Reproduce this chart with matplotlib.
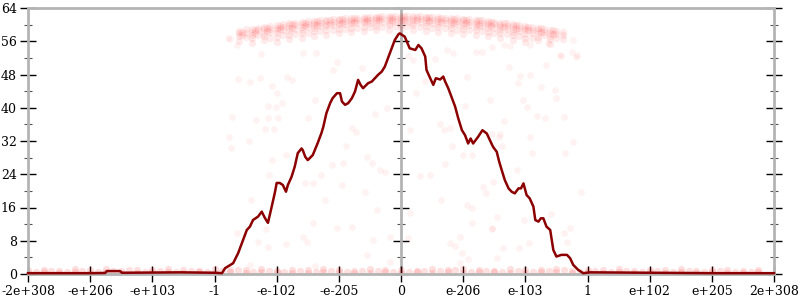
import numpy as np
import matplotlib.pyplot as plt

# tick labels along x (positions -6..6)
xlabels = ["-2e+308", "-e+206", "-e+103", "-1", "-e-102", "-e-205", "0",
           "e-206", "e-103", "1", "e+102", "e+205", "2e+308"]
xticks = list(range(-6, 7))

# the dark red curve
line_x = [-6.0, -5.0, -4.76, -4.73, -4.52, -4.49, -4.0, -3.55, -3.0, -2.88,
          -2.83, -2.70, -2.62, -2.54, -2.48, -2.43, -2.38, -2.30, -2.24, -2.19,
          -2.14, -2.08, -2.03, -2.00, -1.95, -1.90, -1.85, -1.82, -1.76, -1.71,
          -1.66, -1.60, -1.58, -1.54, -1.50, -1.42, -1.34, -1.28, -1.25, -1.20,
          -1.14, -1.10, -1.03, -0.98, -0.95, -0.90, -0.85, -0.79, -0.74, -0.69,
          -0.65, -0.61, -0.53, -0.47, -0.42, -0.37, -0.31, -0.26, -0.20, -0.15,
          -0.10, -0.04, -0.02, 0.06, 0.14, 0.23, 0.28, 0.33, 0.39, 0.41,
          0.47, 0.52, 0.56, 0.63, 0.68, 0.71, 0.76, 0.82, 0.87, 0.92,
          0.98, 1.03, 1.08, 1.12, 1.16, 1.24, 1.31, 1.38, 1.43, 1.48,
          1.54, 1.58, 1.62, 1.67, 1.73, 1.78, 1.83, 1.89, 1.93, 1.97,
          2.02, 2.07, 2.13, 2.16, 2.21, 2.25, 2.29, 2.34, 2.40, 2.45,
          2.50, 2.58, 2.67, 2.72, 2.77, 2.85, 2.93, 3.04, 4.0, 5.0, 6.0]
line_y = [0.2, 0.2, 0.25, 0.7, 0.7, 0.3, 0.35, 0.4, 0.3, 0.2,
          1.4, 2.6, 5.0, 8.2, 10.6, 11.4, 13.0, 13.8, 15.0, 13.5,
          12.3, 16.2, 19.5, 21.9, 21.9, 21.4, 19.8, 21.4, 23.4, 25.8,
          29.1, 30.2, 29.8, 28.2, 27.4, 28.6, 31.5, 33.9, 35.4, 38.7,
          41.1, 42.3, 43.5, 43.5, 41.5, 40.7, 41.1, 42.3, 43.9, 46.7,
          45.5, 44.7, 45.9, 46.3, 47.1, 47.9, 48.7, 49.9, 52.3, 54.3,
          56.3, 57.7, 57.9, 57.1, 54.3, 53.9, 55.1, 54.3, 52.3, 49.1,
          47.1, 45.5, 47.1, 46.8, 47.5, 46.3, 44.7, 42.3, 40.3, 37.5,
          34.6, 33.4, 31.4, 32.6, 31.4, 33.0, 34.6, 33.8, 32.2, 30.6,
          29.4, 27.0, 25.0, 22.6, 20.6, 19.8, 19.4, 20.6, 20.6, 21.8,
          19.0, 18.2, 16.2, 13.0, 12.6, 13.4, 13.4, 11.4, 10.6, 5.8,
          4.2, 4.6, 4.6, 3.8, 2.2, 1.0, 0.2, 0.4, 0.3, 0.2, 0.2]

# dense band of faint points near the top
top_cols = [-2.6, -2.5, -2.4, -2.3, -2.2, -2.1, -2.0, -1.9, -1.8, -1.7, -1.6,
            -1.5, -1.4, -1.3, -1.2, -1.1, -1.0, -0.9, -0.8, -0.7, -0.6, -0.5,
            -0.4, -0.3, -0.2, -0.1, 0.0, 0.1, 0.2, 0.3, 0.4, 0.5, 0.6, 0.7,
            0.8, 0.9, 1.0, 1.1, 1.2, 1.3, 1.4, 1.5, 1.6, 1.7, 1.8, 1.9, 2.0,
            2.1, 2.2, 2.3, 2.4, 2.5, 2.6]
top_vals = [[58.5, 57.9, 57.2, 56.0], [58.9, 58.1, 57.0],
            [59.0, 58.3, 57.6, 56.8, 55.5], [59.3, 58.6, 57.5],
            [59.4, 58.9, 58.1, 57.3, 56.4], [59.7, 59.0, 58.2, 56.9],
            [59.9, 59.3, 58.7, 57.9, 57.0, 55.8], [60.1, 59.5, 58.6, 57.4],
            [60.3, 59.8, 59.1, 58.4, 57.6, 56.5], [60.5, 59.9, 59.0, 57.8],
            [60.6, 60.1, 59.5, 58.8, 58.0, 56.9], [60.8, 60.2, 59.4, 58.1],
            [60.9, 60.4, 59.9, 59.2, 58.4, 57.3], [61.1, 60.5, 59.7, 58.5],
            [61.2, 60.8, 60.2, 59.6, 58.8, 57.6], [61.3, 60.7, 59.9, 58.7],
            [61.4, 61.0, 60.5, 59.8, 59.0, 57.9], [61.5, 60.9, 60.2, 58.9],
            [61.6, 61.2, 60.7, 60.1, 59.3, 58.2], [61.7, 61.1, 60.4, 59.2],
            [61.8, 61.4, 60.9, 60.3, 59.5, 58.4], [61.8, 61.2, 60.5, 59.4],
            [61.9, 61.5, 61.0, 60.4, 59.7, 58.6], [62.0, 61.3, 60.6, 59.5],
            [62.0, 61.6, 61.1, 60.5, 59.8, 58.8], [62.0, 61.4, 60.7, 59.6],
            [62.1, 61.7, 61.2, 60.6, 59.9, 58.9], [62.0, 61.4, 60.7, 59.6],
            [62.0, 61.6, 61.1, 60.5, 59.8, 58.8], [62.0, 61.3, 60.6, 59.4],
            [61.9, 61.5, 61.0, 60.4, 59.6, 58.5], [61.8, 61.2, 60.4, 59.3],
            [61.8, 61.4, 60.8, 60.2, 59.4, 58.3], [61.7, 61.1, 60.3, 59.1],
            [61.6, 61.2, 60.6, 60.0, 59.2, 58.1], [61.5, 60.9, 60.1, 58.8],
            [61.4, 61.0, 60.4, 59.7, 58.9, 57.8], [61.3, 60.7, 59.8, 58.6],
            [61.2, 60.7, 60.1, 59.5, 58.7, 57.5], [61.0, 60.4, 59.6, 58.4],
            [60.9, 60.4, 59.8, 59.1, 58.3, 57.2], [60.7, 60.1, 59.3, 58.0],
            [60.5, 60.0, 59.4, 58.7, 57.9, 56.8], [60.3, 59.7, 58.9, 57.7],
            [60.1, 59.6, 59.0, 58.3, 57.5, 56.4], [59.9, 59.3, 58.5, 57.2],
            [59.7, 59.2, 58.6, 57.8, 56.9, 55.7], [59.5, 58.8, 58.0, 56.7],
            [59.3, 58.7, 57.9, 57.1, 56.2], [59.0, 58.3, 57.4],
            [58.8, 58.1, 57.3, 56.5, 55.3], [58.5, 57.8, 56.8],
            [58.2, 57.5, 56.6]]
# second pass of the band, read between the columns above
top_cols2 = [-2.55, -2.35, -2.15, -1.95, -1.75, -1.55, -1.35, -1.15, -0.95,
             -0.75, -0.55, -0.35, -0.15, 0.05, 0.25, 0.45, 0.65, 0.85, 1.05,
             1.25, 1.45, 1.65, 1.85, 2.05, 2.25, 2.45]
top_vals2 = [[58.3, 57.4], [58.8, 57.9], [59.2, 58.4], [59.7, 58.9],
             [60.1, 59.2], [60.5, 59.6], [60.8, 59.9], [61.1, 60.2],
             [61.3, 60.5], [61.5, 60.7], [61.7, 60.9], [61.8, 61.0],
             [61.9, 61.1], [62.0, 61.1], [61.9, 61.0], [61.8, 60.9],
             [61.6, 60.7], [61.4, 60.5], [61.2, 60.3], [61.0, 60.0],
             [60.7, 59.7], [60.3, 59.4], [59.9, 59.0], [59.5, 58.6],
             [59.1, 58.2], [58.6, 57.7]]

# faint points along the bottom
bottom_x = [-6.0, -5.75, -5.5, -5.25, -5.0, -4.75, -4.5, -4.25, -4.0, -3.75,
            -3.5, -3.25, -3.0, -2.75, -2.5, -2.25, -2.0, -1.75, -1.5, -1.25,
            -1.0, -0.75, -0.5, -0.25, 0.0, 0.25, 0.5, 0.75, 1.0, 1.25, 1.5,
            1.75, 2.0, 2.25, 2.5, 2.75, 3.0, 3.25, 3.5, 3.75, 4.0, 4.25, 4.5,
            4.75, 5.0, 5.25, 5.5, 5.75]
bottom_lo = [0.3, 0.4, 0.2, 0.5, 0.3, 0.4, 0.3, 0.2, 0.5, 0.4, 0.3, 0.5,
             0.2, 0.4, 0.3, 0.5, 0.4, 0.2, 0.3, 0.5, 0.4, 0.3, 0.2, 0.4,
             0.3, 0.5, 0.2, 0.4, 0.3, 0.5, 0.4, 0.3, 0.2, 0.5, 0.4, 0.3,
             0.4, 0.2, 0.5, 0.3, 0.4, 0.2, 0.5, 0.3, 0.4, 0.3, 0.2, 0.4]
bottom_hi = [0.9, 1.0, 0.8, 1.1, 0.9, 1.2, 0.8, 1.0, 0.9, 1.1, 1.0, 0.8,
             1.2, 0.9, 1.0, 1.1, 0.8, 1.0, 0.9, 1.2, 1.0, 0.8, 1.1, 0.9,
             1.0, 0.8, 1.1, 0.9, 1.2, 1.0, 0.8, 1.1, 0.9, 1.0, 1.2, 0.8,
             1.0, 0.9, 1.1, 0.8, 1.0, 0.9, 1.1, 0.8, 0.9, 1.0, 0.8, 0.9]
bottom_x2 = [-5.875, -5.625, -5.375, -5.125, -4.875, -4.625, -4.375, -4.125,
             -3.875, -3.625, -3.375, -3.125, -2.875, -2.625, -2.375, -2.125,
             -1.875, -1.625, -1.375, -1.125, -0.875, -0.625, -0.375, -0.125,
             0.125, 0.375, 0.625, 0.875, 1.125, 1.375, 1.625, 1.875, 2.125,
             2.375, 2.625, 2.875, 3.125, 3.375, 3.625, 3.875, 4.125, 4.375,
             4.625, 4.875, 5.125, 5.375, 5.625]
bottom_mid = [0.6, 0.7, 0.5, 0.8, 0.6, 0.7, 0.9, 0.6, 0.7, 0.5, 0.8, 0.6,
              0.7, 0.9, 0.6, 0.7, 0.5, 0.8, 0.6, 0.7, 0.6, 0.8, 0.7, 0.5,
              0.6, 0.8, 0.7, 0.9, 0.6, 0.7, 0.5, 0.8, 0.6, 0.7, 0.9, 0.6,
              0.7, 0.5, 0.8, 0.6, 0.7, 0.6, 0.8, 0.5, 0.7, 0.6, 0.5]

# sparse points in between
sparse_x = [-2.75, -2.25, -2.62, -2.43, -2.27, -2.08, -1.99, -1.84, -1.76, -2.72,
            -2.34, -2.14, -1.98, -2.14, -2.01, -1.92, -2.19, -2.04, -2.76, -2.73,
            -2.44, -2.08, -1.85, -2.12, -2.41, -2.64, -2.17, -2.30, -2.14, -1.85,
            -2.43, -1.57, -1.36, -1.03, -1.09, -0.63, -1.38, -0.23, -0.42, -1.49,
            -0.79, -0.72, -0.88, -0.55, -0.93, -1.11, -0.47, -0.34, -0.26, -1.54,
            -1.41, -1.28, -0.95, -0.58, -1.22, -0.39, -1.41, -1.03, -0.79, -1.57,
            -1.52, -0.45, -0.18, -0.55, -0.18, -1.38, 0.12, 0.20, 0.55, 0.74,
            1.21, 1.31, 0.84, 0.39, 1.06, 0.24, 1.43, 1.03, 0.69, 0.79,
            0.63, 0.14, 1.57, 1.00, 1.14, 0.71, 0.82, 0.31, 0.47, 1.32,
            1.37, 0.65, 1.06, 1.14, 0.14, 1.14, 1.46, 0.12, 0.95, 0.79,
            0.87, 0.98, 1.08, 0.95, 1.46, 1.65, 1.75, 2.07, 2.37, 2.57,
            2.75, 2.81, 1.73, 2.34, 1.91, 2.07, 1.89, 2.26, 2.50, 2.48,
            1.97, 2.02, 2.18, 2.32, 2.63, 1.66, 1.46, 1.59, 2.07, 2.77,
            1.63, 2.10, 2.64, 1.86, 1.48, 2.89, 1.54, 1.98, 1.46, 2.72,
            2.42, 1.64, 2.06, 1.90, 1.54, 2.67, 2.62, -2.78, -2.64, 2.77,
            2.83, 2.56]
sparse_y = [56.5, 52.9, 46.9, 46.2, 47.1, 45.3, 43.5, 47.4, 46.7, 37.8,
            37.1, 37.6, 37.6, 40.4, 40.2, 41.1, 34.8, 34.9, 33.0, 30.4,
            32.0, 27.4, 28.6, 23.8, 17.8, 9.8, 10.8, 7.8, 6.6, 7.2,
            2.2, 53.1, 53.1, 51.1, 49.1, 49.5, 41.9, 39.9, 38.4, 37.5,
            35.1, 34.2, 30.8, 28.2, 26.6, 26.2, 26.6, 25.0, 24.6, 21.8,
            21.8, 23.7, 21.4, 19.8, 17.8, 15.4, 12.2, 11.0, 11.4, 9.0,
            7.8, 8.2, 9.0, 4.6, 3.0, 1.9, 52.5, 51.5, 51.7, 53.9,
            53.5, 53.5, 53.1, 46.4, 47.5, 43.6, 41.9, 40.4, 34.6, 35.1,
            36.0, 34.6, 33.0, 28.6, 28.6, 26.5, 30.8, 23.6, 23.8, 21.0,
            19.4, 17.8, 16.6, 16.0, 14.6, 12.3, 10.8, 8.6, 9.0, 7.5,
            6.7, 5.0, 3.5, 2.7, 54.7, 55.1, 54.9, 55.1, 55.5, 52.5,
            53.3, 52.3, 49.9, 50.3, 47.6, 47.9, 46.0, 44.9, 42.3, 44.3,
            41.9, 40.1, 38.0, 37.6, 37.8, 36.8, 33.8, 33.8, 32.9, 31.8,
            30.8, 29.0, 29.0, 25.0, 22.2, 19.8, 13.8, 13.0, 11.0, 11.0,
            14.4, 6.2, 7.4, 6.2, 3.8, 7.8, 9.8, 56.7, 55.1, 56.3,
            52.7, 52.7]

top_x = [c for c, vals in zip(top_cols, top_vals) for v in vals]
top_y = [v for vals in top_vals for v in vals]
top_x += [c for c, vals in zip(top_cols2, top_vals2) for v in vals]
top_y += [v for vals in top_vals2 for v in vals]

plt.rcParams['font.family'] = 'DejaVu Serif'
fig = plt.figure(figsize=(8, 3), dpi=100)
ax = fig.add_axes([28/800, 26/300, 746/800, 266/300])

grey = '#b4b4b4'
ax.axvline(0, color=grey, lw=2, zorder=1)

red = '#ff0000'
ax.scatter(top_x, top_y, s=28, color=red, alpha=0.08, lw=0, zorder=2)
ax.scatter(bottom_x + bottom_x + bottom_x2, bottom_lo + bottom_hi + bottom_mid,
           s=28, color=red, alpha=0.12, lw=0, zorder=2)
ax.scatter(sparse_x, sparse_y, s=24, color=red, alpha=0.05, lw=0, zorder=2)
ax.plot(line_x, line_y, color='#8b0000', lw=1.8, zorder=3, clip_on=False)

ax.set_xlim(-6, 6)
ax.set_ylim(0, 64)
for s in ax.spines.values():
    s.set_color(grey)
    s.set_linewidth(2)

ax.set_xticks(xticks)
ax.set_xticklabels(xlabels)
ax.set_yticks(range(0, 65, 8))
ax.set_yticks(range(4, 64, 8), minor=True)
ax.tick_params(axis='both', which='major', direction='inout', length=12,
               width=1, color='black', labelsize=9, pad=2)
ax.tick_params(axis='y', which='minor', direction='inout', length=6,
               width=0.8, color='#555555')
ax.tick_params(axis='y', which='both', right=True)

mid = ax.secondary_yaxis(0.5)
mid.set_yticks(range(0, 65, 8))
mid.set_yticks(range(4, 64, 8), minor=True)
mid.set_yticklabels([])
mid.spines['left'].set_visible(False)
mid.spines['right'].set_visible(False)
mid.tick_params(axis='y', which='major', direction='inout', length=12,
                width=1, color='black')
mid.tick_params(axis='y', which='minor', direction='inout', length=6,
                width=0.8, color='#555555')

plt.savefig('out.png')
